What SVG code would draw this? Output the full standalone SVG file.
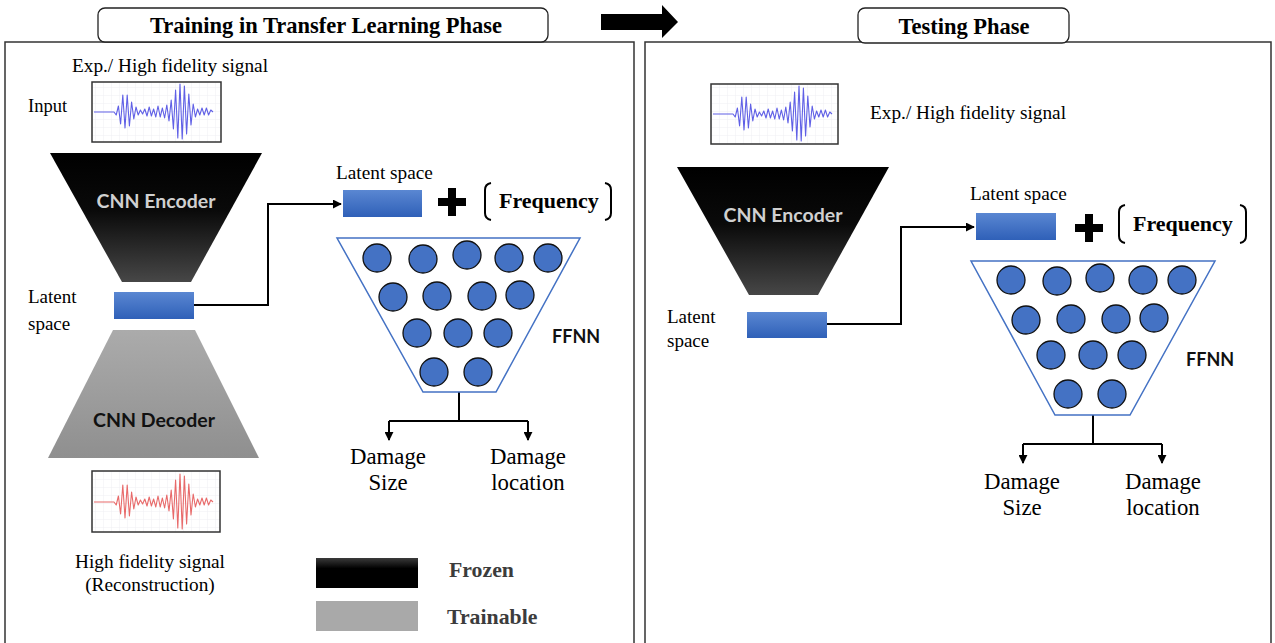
<svg xmlns="http://www.w3.org/2000/svg" width="1275" height="643" viewBox="0 0 1275 643">
  <style>
    .serif { font-family: "Liberation Serif", "DejaVu Serif", serif; fill: #000; }
    .bold { font-weight: bold; }
    .sans { font-family: Lato, "Liberation Sans", sans-serif; font-weight: bold; }
    .panel { fill: none; stroke: #333; stroke-width: 1.5; }
    .title { fill: #fff; stroke: #222; stroke-width: 1.3; }
    .wire { fill: none; stroke: #000; stroke-width: 2; }
    .ffnn { fill: #fff; stroke: #4472c4; stroke-width: 1.5; }
    .neuron { fill: #4472c4; stroke: #111; stroke-width: 1.3; }
    .sigbox { fill: url(#grid); stroke: #333; stroke-width: 1.5; }
    .bracket { fill: none; stroke: #000; stroke-width: 2; }
    .legend-label { fill: #3c3c3c; }
  </style>
  <defs>
    <linearGradient id="frozen" x1="0" y1="0" x2="0" y2="1">
      <stop offset="0" stop-color="#000"/>
      <stop offset="0.45" stop-color="#0a0a0a"/>
      <stop offset="1" stop-color="#474747"/>
    </linearGradient>
    <linearGradient id="trainable" x1="0" y1="0" x2="0" y2="1">
      <stop offset="0" stop-color="#ababab"/>
      <stop offset="1" stop-color="#8f8f8f"/>
    </linearGradient>
    <linearGradient id="latent" x1="0" y1="0" x2="0" y2="1">
      <stop offset="0" stop-color="#5a87d2"/>
      <stop offset="1" stop-color="#2f60b8"/>
    </linearGradient>
    <linearGradient id="legendFrozen" x1="0" y1="0" x2="0" y2="1">
      <stop offset="0" stop-color="#3a3a3a"/>
      <stop offset="0.35" stop-color="#000"/>
      <stop offset="1" stop-color="#000"/>
    </linearGradient>
    <pattern id="grid" width="8" height="8" patternUnits="userSpaceOnUse">
      <rect width="8" height="8" fill="#fff"/>
      <path d="M8 0V8M0 8H8" fill="none" stroke="#f0f0f4" stroke-width="1"/>
    </pattern>
    <marker id="arrow" viewBox="0 0 10 10" refX="9" refY="5" markerWidth="4.5" markerHeight="4.5" orient="auto">
      <path d="M0 0L10 5L0 10z" fill="#000"/>
    </marker>
    <!-- tone-burst waveform drawn in a ~122x60 box -->
    <polyline id="wave" fill="none" stroke="currentColor" stroke-width="1.1" stroke-linejoin="round"
      points="2,30 22,30 24.2,33 26.4,24 28.6,42 30.8,13 33,46 35.2,13 37.4,44 39.6,20 41.8,37 44,25 46.2,33 48.4,28 50.6,32 52.8,27 55,34 57.2,25 59.4,34 61.6,27 63.8,35 66,24 68.2,35 70.4,26 72.6,36 74.8,23 77,39 79.2,18 81.4,47 83.6,8 85.8,56 88,2 90.2,57 92.4,4 94.6,52 96.8,12 99,43 101.2,22 103.4,35 105.6,27 107.8,33 110,26 112.2,33 114.4,26 116.6,33 118.8,28 121,30"/>
  </defs>

  <rect width="1275" height="643" fill="#fff"/>

  <!-- panels -->
  <path class="panel" d="M5 643V42H634V643"/>
  <path class="panel" d="M645 643V42H1271V643"/>

  <!-- phase titles -->
  <g id="title-training">
    <rect class="title" x="98" y="8" width="450" height="34" rx="7"/>
    <text class="serif bold" x="326" y="33" font-size="22.5" text-anchor="middle">Training in Transfer Learning Phase</text>
  </g>
  <g id="title-testing">
    <rect class="title" x="858" y="8" width="211" height="35" rx="7"/>
    <text class="serif bold" x="964" y="34" font-size="22.5" text-anchor="middle">Testing Phase</text>
  </g>
  <g id="phase-arrow">
    <path d="M601 14H662V5L678 22L662 38V30H601z" fill="#000"/>
  </g>

  <!-- connectors -->
  <g id="connectors">
    <path class="wire" d="M194 305H268V204H341" marker-end="url(#arrow)"/>
    <path class="wire" d="M459 392V421M389 421H528"/>
    <path class="wire" d="M389 421V440" marker-end="url(#arrow)"/>
    <path class="wire" d="M528 421V440" marker-end="url(#arrow)"/>
    <path class="wire" d="M827 324H901V227H974" marker-end="url(#arrow)"/>
    <path class="wire" d="M1093 415V444M1023 444H1162"/>
    <path class="wire" d="M1023 444V463" marker-end="url(#arrow)"/>
    <path class="wire" d="M1162 444V463" marker-end="url(#arrow)"/>
  </g>

  <!-- ===== training phase ===== -->
  <g id="input-signal">
    <text class="serif" x="170" y="72" font-size="19.3" text-anchor="middle">Exp./ High fidelity signal</text>
    <text class="serif" x="28" y="112" font-size="18.5">Input</text>
    <rect class="sigbox" x="92" y="82" width="129" height="60"/>
    <use href="#wave" x="92" y="82" color="#6060e6"/>
  </g>

  <g id="encoder">
    <path d="M50 153H262L191 282H122z" fill="url(#frozen)"/>
    <text class="sans" x="156" y="208" font-size="19.5" fill="#d0d0d0" text-anchor="middle">CNN Encoder</text>
  </g>

  <g id="latent">
    <text class="serif" x="28" y="303" font-size="19">Latent</text>
    <text class="serif" x="28" y="330" font-size="19">space</text>
    <rect x="114" y="292" width="80" height="27" fill="url(#latent)"/>
  </g>

  <g id="decoder">
    <path d="M113 330H195L259 458H48z" fill="url(#trainable)"/>
    <text class="sans" x="154" y="427" font-size="19.5" fill="#111" text-anchor="middle">CNN Decoder</text>
  </g>

  <g id="reconstruction">
    <rect class="sigbox" x="92" y="471" width="128" height="61"/>
    <use href="#wave" x="92" y="472" color="#e86a6a"/>
    <text class="serif" x="150" y="568" font-size="19.3" text-anchor="middle">High fidelity signal</text>
    <text class="serif" x="150" y="591" font-size="19.3" text-anchor="middle">(Reconstruction)</text>
  </g>

  <g id="ffnn-input">
    <text class="serif" x="336" y="179" font-size="19.3">Latent space</text>
    <rect x="343" y="190" width="79" height="27" fill="url(#latent)"/>
    <path d="M438 198H466V206H438z M448 188H456V216H448z" fill="#000"/>
    <path class="bracket" d="M491 183Q485 184 485 190V213Q485 219 491 220"/>
    <text class="serif bold" x="499" y="208" font-size="22">Frequency</text>
    <path class="bracket" d="M605 183Q611 184 611 190V213Q611 219 605 220"/>
  </g>

  <g id="ffnn">
    <path class="ffnn" d="M337 238H580L496 392H423z"/>
    <circle class="neuron" cx="377" cy="258" r="14"/>
    <circle class="neuron" cx="423" cy="259" r="14"/>
    <circle class="neuron" cx="467" cy="255" r="14"/>
    <circle class="neuron" cx="509" cy="258" r="14"/>
    <circle class="neuron" cx="548" cy="258" r="14"/>
    <circle class="neuron" cx="393" cy="297" r="14"/>
    <circle class="neuron" cx="437" cy="296" r="14"/>
    <circle class="neuron" cx="482" cy="296" r="14"/>
    <circle class="neuron" cx="520" cy="295" r="14"/>
    <circle class="neuron" cx="417" cy="333" r="14"/>
    <circle class="neuron" cx="458" cy="333" r="14"/>
    <circle class="neuron" cx="498" cy="333" r="14"/>
    <circle class="neuron" cx="434" cy="372" r="14"/>
    <circle class="neuron" cx="478" cy="372" r="14"/>
    <text class="sans" x="552" y="343" font-size="18" fill="#111">FFNN</text>
  </g>

  <g id="outputs">
    <text class="serif" x="388" y="464" font-size="22.8" text-anchor="middle">Damage</text>
    <text class="serif" x="388" y="490" font-size="22.8" text-anchor="middle">Size</text>
    <text class="serif" x="528" y="464" font-size="22.8" text-anchor="middle">Damage</text>
    <text class="serif" x="528" y="490" font-size="22.8" text-anchor="middle">location</text>
  </g>

  <g id="legend">
    <rect x="316" y="558" width="102" height="30" fill="url(#legendFrozen)"/>
    <text class="serif bold legend-label" x="449" y="577" font-size="21.8">Frozen</text>
    <rect x="316" y="601" width="102" height="30" fill="#a9a9a9"/>
    <text class="serif bold legend-label" x="447" y="624" font-size="21.8">Trainable</text>
  </g>

  <!-- ===== testing phase ===== -->
  <g id="test-signal">
    <rect class="sigbox" x="711" y="84" width="127" height="60"/>
    <use href="#wave" x="711" y="84" color="#6060e6"/>
    <text class="serif" x="870" y="119" font-size="19.3">Exp./ High fidelity signal</text>
  </g>

  <g id="test-encoder">
    <path d="M677 167H889L818 295H749z" fill="url(#frozen)"/>
    <text class="sans" x="783" y="222" font-size="19.5" fill="#d0d0d0" text-anchor="middle">CNN Encoder</text>
  </g>

  <g id="test-latent">
    <text class="serif" x="667" y="323" font-size="19">Latent</text>
    <text class="serif" x="667" y="347" font-size="19">space</text>
    <rect x="747" y="312" width="80" height="26" fill="url(#latent)"/>
  </g>

  <g id="test-ffnn-input">
    <text class="serif" x="970" y="200" font-size="19.3">Latent space</text>
    <rect x="976" y="213" width="80" height="27" fill="url(#latent)"/>
    <path d="M1075 224H1103V232H1075z M1085 214H1093V242H1085z" fill="#000"/>
    <path class="bracket" d="M1125 205Q1119 206 1119 212V236Q1119 242 1125 243"/>
    <text class="serif bold" x="1133" y="231" font-size="22">Frequency</text>
    <path class="bracket" d="M1240 205Q1246 206 1246 212V236Q1246 242 1240 243"/>
  </g>

  <g id="test-ffnn">
    <path class="ffnn" d="M971 261H1215L1130 415H1055z"/>
    <circle class="neuron" cx="1011" cy="280" r="14"/>
    <circle class="neuron" cx="1057" cy="281" r="14"/>
    <circle class="neuron" cx="1100" cy="278" r="14"/>
    <circle class="neuron" cx="1143" cy="280" r="14"/>
    <circle class="neuron" cx="1182" cy="280" r="14"/>
    <circle class="neuron" cx="1026" cy="320" r="14"/>
    <circle class="neuron" cx="1071" cy="319" r="14"/>
    <circle class="neuron" cx="1116" cy="319" r="14"/>
    <circle class="neuron" cx="1154" cy="318" r="14"/>
    <circle class="neuron" cx="1051" cy="355" r="14"/>
    <circle class="neuron" cx="1093" cy="355" r="14"/>
    <circle class="neuron" cx="1132" cy="355" r="14"/>
    <circle class="neuron" cx="1068" cy="394" r="14"/>
    <circle class="neuron" cx="1112" cy="394" r="14"/>
    <text class="sans" x="1186" y="366" font-size="18" fill="#111">FFNN</text>
  </g>

  <g id="test-outputs">
    <text class="serif" x="1022" y="489" font-size="22.8" text-anchor="middle">Damage</text>
    <text class="serif" x="1022" y="515" font-size="22.8" text-anchor="middle">Size</text>
    <text class="serif" x="1163" y="489" font-size="22.8" text-anchor="middle">Damage</text>
    <text class="serif" x="1163" y="515" font-size="22.8" text-anchor="middle">location</text>
  </g>
</svg>
